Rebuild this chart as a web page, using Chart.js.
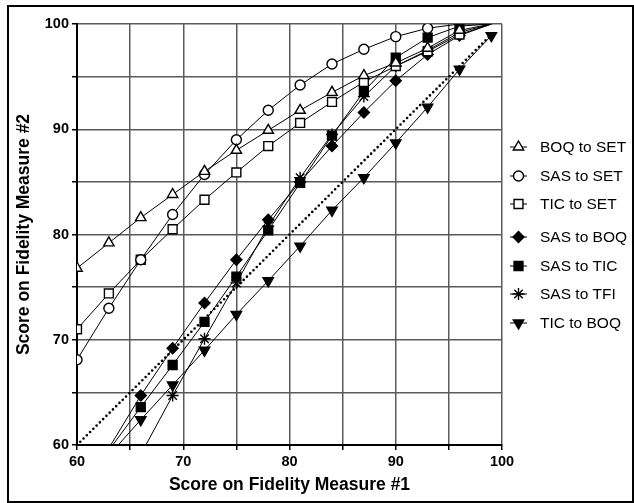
<!DOCTYPE html>
<html>
<head>
<meta charset="utf-8">
<script src="https://cdn.jsdelivr.net/npm/chart.js@4.4.1/dist/chart.umd.min.js"></script>
<style>
  body { margin: 0; background: #fff; }
  canvas { display: block; }
</style>
</head>
<body>
<canvas id="chart" width="634" height="503"></canvas>
<script>
// scores on measure #1 (x) shared by every series
const xs = [60, 63, 66, 69, 72, 75, 78, 81, 84, 87, 90, 93, 96, 99];

// scores on measure #2 (null = no point)
const boqToSet = [76.8, 79.2, 81.6, 83.8, 86.0, 88.0, 89.9, 91.8, 93.5, 95.1, 96.3, 97.7, 99.4, 100];
const sasToSet = [68.1, 73.0, 77.6, 81.9, 85.7, 89.0, 91.8, 94.2, 96.2, 97.6, 98.8, 99.6, 100, 100];
const ticToSet = [71.0, 74.4, 77.6, 80.5, 83.3, 85.9, 88.4, 90.6, 92.6, 94.5, 96.0, 97.4, 99.0, 100];
const sasToBoq = [null, 59.7, 64.7, 69.2, 73.5, 77.6, 81.4, 85.0, 88.4, 91.6, 94.6, 97.1, 98.9, 100];
const sasToTic = [null, 59.5, 63.6, 67.6, 71.7, 76.0, 80.4, 84.9, 89.4, 93.6, 96.8, 98.7, 99.8, 100];
const sasToTfi = [null, null, 59.1, 64.7, 70.1, 75.4, 80.8, 85.4, 89.5, 93.1, 96.0, 97.5, 99.2, 100];
const ticToBoq = [null, 59.0, 62.4, 65.7, 69.0, 72.4, 75.6, 78.9, 82.3, 85.4, 88.7, 92.1, 95.7, 98.9];

// line of equality
const diagX = [60, 99];
const diagY = [60, 99];

const FONT = "'Liberation Sans', Arial, Helvetica, sans-serif";

function toPoints(xv, yv) {
    return xv.map((x, i) => ({ x: x, y: yv[i] }));
}

// no marker where the point sits on/outside the plot edge
function markerSize(r) {
    return ctx => {
        const y = ctx.raw && ctx.raw.y;
        return (y == null || y >= 100 || y < 60) ? 0 : r;
    };
}

function series(label, yv, style, r, filled, rotation) {
    return {
        label: label,
        data: toPoints(xs, yv),
        showLine: true,
        borderColor: "#000",
        borderWidth: 1,
        pointStyle: style,
        pointRotation: rotation || 0,
        pointRadius: markerSize(r),
        pointBackgroundColor: filled ? "#000" : "#fff",
        pointBorderColor: "#000",
        pointBorderWidth: 1.4,
        pointHoverRadius: 0,
        legendRadius: r
    };
}

const datasets = [
    series("BOQ to SET", boqToSet, "triangle", 6, false),
    series("SAS to SET", sasToSet, "circle", 5, false),
    series("TIC to SET", ticToSet, "rect", 6.3, false),
    series("SAS to BOQ", sasToBoq, "rectRot", 5.5, true),
    series("SAS to TIC", sasToTic, "rect", 6.3, true),
    series("SAS to TFI", sasToTfi, "star", 6, true),
    series("TIC to BOQ", ticToBoq, "triangle", 6, true, 180),
    {
        label: "diagonal",
        data: toPoints(diagX, diagY),
        showLine: true,
        borderColor: "#000",
        borderWidth: 2.6,
        borderDash: [0, 4.6],
        borderCapStyle: "round",
        pointRadius: 0,
        pointHoverRadius: 0,
        noLegend: true
    }
];

// legend rows on the right, drawn by hand to get line + marker look
const legendRows = [147, 176, 204, 237, 266, 294, 323];

const legendPlugin = {
    id: "sideLegend",
    afterDraw(chart) {
        const c = chart.ctx;
        c.save();
        let row = 0;
        chart.data.datasets.forEach(ds => {
            if (ds.noLegend) return;
            const y = legendRows[row++];
            c.strokeStyle = "#000";
            c.lineWidth = 1;
            c.beginPath();
            c.moveTo(510, y);
            c.lineTo(527, y);
            c.stroke();
            c.fillStyle = ds.pointBackgroundColor;
            c.strokeStyle = "#000";
            c.lineWidth = ds.pointBorderWidth;
            Chart.helpers.drawPoint(c, {
                pointStyle: ds.pointStyle,
                radius: ds.legendRadius,
                rotation: ds.pointRotation,
                borderWidth: ds.pointBorderWidth
            }, 518.5, y);
            c.fillStyle = "#000";
            c.font = "15.5px " + FONT;
            c.textBaseline = "middle";
            c.textAlign = "left";
            c.fillText(ds.label, 540, y + 1);
        });
        c.restore();
    }
};

const framePlugin = {
    id: "frame",
    beforeDraw(chart) {
        const c = chart.ctx;
        c.save();
        c.fillStyle = "#fff";
        c.fillRect(0, 0, chart.width, chart.height);
        c.restore();
    },
    afterDraw(chart) {
        const c = chart.ctx;
        c.save();
        c.strokeStyle = "#000";
        c.lineWidth = 2;
        c.strokeRect(8, 6, 625, 496);
        c.restore();
    }
};

new Chart(document.getElementById("chart").getContext("2d"), {
    type: "scatter",
    data: { datasets: datasets },
    options: {
        responsive: false,
        animation: false,
        events: [],
        layout: {
            padding: { left: 0, top: 24, right: 132, bottom: 0 }
        },
        plugins: {
            legend: { display: false },
            tooltip: { enabled: false }
        },
        scales: {
            x: {
                type: "linear",
                min: 60,
                max: 100,
                ticks: {
                    stepSize: 5,
                    autoSkip: false,
                    maxRotation: 0,
                    padding: 3,
                    color: "#000",
                    font: { family: FONT, size: 14.5, weight: "bold" },
                    callback: v => (v % 10 === 0 ? v : "")
                },
                grid: {
                    color: "#5a5a5a",
                    lineWidth: 1.5,
                    tickLength: 5,
                    tickColor: "#000",
                    tickWidth: 1.5
                },
                border: { color: "#000", width: 2 },
                title: {
                    display: true,
                    text: "Score on Fidelity Measure #1",
                    color: "#000",
                    font: { family: FONT, size: 17.5, weight: "bold" },
                    padding: { top: 0, bottom: 7 }
                },
                afterFit: s => { s.height = 58; }
            },
            y: {
                type: "linear",
                min: 60,
                max: 100,
                ticks: {
                    stepSize: 5,
                    autoSkip: false,
                    padding: 3,
                    color: "#000",
                    font: { family: FONT, size: 14.5, weight: "bold" },
                    callback: v => (v % 10 === 0 ? v : "")
                },
                grid: {
                    color: "#5a5a5a",
                    lineWidth: 1.5,
                    tickLength: 5,
                    tickColor: "#000",
                    tickWidth: 1.5
                },
                border: { color: "#000", width: 2 },
                title: {
                    display: true,
                    text: "Score on Fidelity Measure #2",
                    color: "#000",
                    font: { family: FONT, size: 17.5, weight: "bold" },
                    padding: { top: 14, bottom: 0 }
                },
                afterFit: s => { s.width = 77; }
            }
        }
    },
    plugins: [framePlugin, legendPlugin]
});
</script>
</body>
</html>
